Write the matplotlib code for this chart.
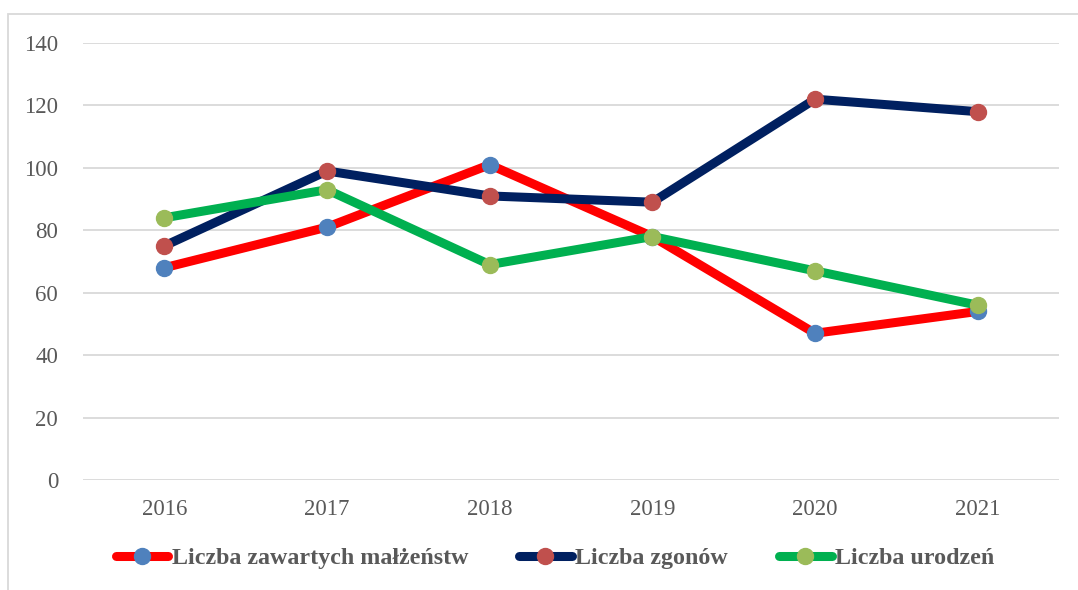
import matplotlib
matplotlib.use("Agg")
import matplotlib.pyplot as plt
from matplotlib.patches import Rectangle

years = ["2016", "2017", "2018", "2019", "2020", "2021"]
malzenstwa = [68, 81, 101, 78, 47, 54]
zgony = [75, 99, 91, 89, 122, 118]
urodzenia = [84, 93, 69, 78, 67, 56]

series = [
    ("Liczba zawartych małżeństw", malzenstwa, "#ff0000", "#4f81bd"),
    ("Liczba zgonów", zgony, "#002060", "#c0504d"),
    ("Liczba urodzeń", urodzenia, "#00b050", "#9bbb59"),
]

plt.rcParams['font.family'] = ['Liberation Serif', 'DejaVu Serif']

W, H = 1078, 590
fig = plt.figure(figsize=(W / 100, H / 100), dpi=100)
ax = fig.add_axes([83 / W, 1 - 480 / H, (1059 - 83) / W, (480 - 43) / H])

x = list(range(len(years)))
for label, vals, lc, mc in series:
    ax.plot(x, vals, color=lc, lw=6.5, marker="o", markersize=11.5,
            markerfacecolor=mc, markeredgecolor=mc, label=label,
            solid_capstyle="round", solid_joinstyle="round")

ax.set_xlim(-0.5, 5.5)
ax.set_ylim(0, 140)
ax.set_yticks(range(0, 141, 20))
ax.set_xticks(x)
ax.set_xticklabels(years)
ax.yaxis.grid(True, color="#d9d9d9", lw=1.3)
ax.set_axisbelow(True)
for s in ax.spines.values():
    s.set_visible(False)
ax.tick_params(axis="both", length=0, labelsize=16.5, labelcolor="#595959")
ax.tick_params(axis="y", pad=18)
ax.tick_params(axis="x", pad=14)

leg = fig.legend(loc="center", bbox_to_anchor=(555 / W, 1 - 558 / H), ncol=3,
                 frameon=False, handlelength=2.2, handletextpad=0.15,
                 columnspacing=2.1,
                 prop={"family": "Liberation Serif", "weight": "bold", "size": 17.3})
for t in leg.get_texts():
    t.set_color("#595959")

border = Rectangle((8 / W, -0.05), 1.1, 1 - 14 / H + 0.05, transform=fig.transFigure,
                   fill=False, edgecolor="#d9d9d9", lw=1.3, clip_on=False)
fig.patches.append(border)

fig.savefig("out.png", dpi=100)
